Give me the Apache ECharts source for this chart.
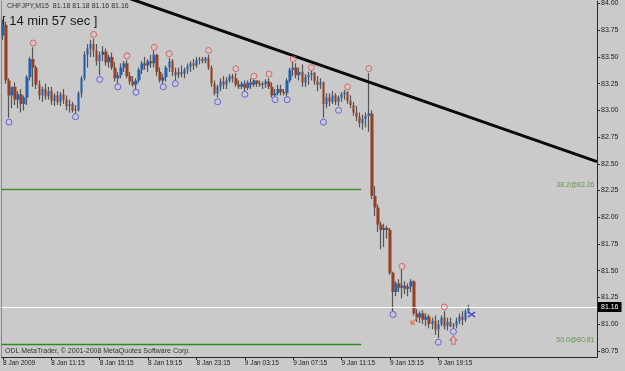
<!DOCTYPE html>
<html><head><meta charset="utf-8">
<script src="https://cdn.jsdelivr.net/npm/echarts@6/dist/echarts.min.js"></script>
<style>html,body{margin:0;padding:0;background:#cacaca}#c{width:625px;height:371px}</style>
</head><body><div id="c"></div>
<script>
// ---- data (CHFJPY M15, 8-9 Jan 2009) ----
const opens = [
83.70,83.80,83.28,83.14,83.22,83.10,83.15,83.06,83.12,83.31,
83.48,83.40,83.24,83.14,83.20,83.13,83.18,83.09,83.14,83.08,
83.15,83.10,83.04,83.06,83.01,83.00,83.16,83.30,83.52,83.58,
83.62,83.56,83.46,83.52,83.55,83.45,83.50,83.40,83.30,83.33,
83.40,83.44,83.32,83.27,83.24,83.28,83.38,83.44,83.42,83.46,
83.44,83.52,83.36,83.28,83.31,83.40,83.46,83.36,83.33,83.36,
83.34,83.38,83.41,83.44,83.42,83.47,83.48,83.46,83.49,83.40,
83.25,83.16,83.22,83.27,83.24,83.28,83.32,83.30,83.24,83.22,
83.25,83.21,83.26,83.24,83.28,83.25,83.24,83.25,83.27,83.22,
83.14,83.16,83.20,83.17,83.16,83.28,83.38,83.40,83.33,83.36,
83.26,83.31,83.33,83.35,83.27,83.24,83.26,83.06,83.12,83.08,
83.14,83.08,83.12,83.15,83.17,83.09,83.05,82.98,82.94,82.88,
82.92,82.95,82.97,82.20,82.09,81.93,81.88,81.90,81.88,81.48,
81.30,81.38,81.34,81.36,81.33,81.35,81.40,81.10,81.06,81.10,
81.04,81.07,81.00,81.03,80.95,81.00,81.06,80.98,81.02,80.98,
80.99,81.03,81.07,81.04,81.12];
const highs = [
83.85,83.83,83.30,83.22,83.26,83.18,83.20,83.14,83.33,83.50,
83.59,83.42,83.28,83.22,83.25,83.22,83.22,83.16,83.18,83.17,
83.20,83.14,83.10,83.08,83.05,83.18,83.32,83.55,83.62,83.66,
83.67,83.62,83.55,83.60,83.58,83.52,83.54,83.45,83.36,83.44,
83.46,83.47,83.36,83.32,83.30,83.40,83.46,83.50,83.48,83.52,
83.56,83.53,83.40,83.34,83.42,83.49,83.48,83.40,83.40,83.42,
83.40,83.44,83.46,83.48,83.50,83.50,83.50,83.50,83.52,83.42,
83.28,83.24,83.30,83.32,83.31,83.34,83.34,83.35,83.28,83.27,
83.28,83.28,83.30,83.29,83.28,83.28,83.27,83.29,83.30,83.26,
83.20,83.24,83.24,83.20,83.30,83.40,83.45,83.44,83.40,83.43,
83.34,83.36,83.37,83.36,83.32,83.30,83.27,83.16,83.16,83.18,
83.16,83.14,83.17,83.19,83.18,83.14,83.08,83.04,82.98,82.96,
82.98,83.35,83.00,82.29,82.12,81.96,81.94,81.92,81.90,81.49,
81.40,81.42,81.51,81.40,81.38,81.42,81.41,81.14,81.12,81.13,
81.10,81.09,81.06,81.08,81.04,81.08,81.12,81.06,81.06,81.01,
81.06,81.10,81.12,81.14,81.18];
const lows = [
83.66,83.25,82.93,83.02,83.05,83.02,82.98,83.00,83.05,83.28,
83.22,83.20,83.10,83.08,83.10,83.10,83.05,83.04,83.05,83.04,
83.06,83.00,82.98,82.98,82.97,82.99,83.12,83.28,83.40,83.50,
83.50,83.42,83.33,83.46,83.42,83.40,83.38,83.27,83.25,83.30,
83.36,83.30,83.24,83.22,83.20,83.26,83.34,83.38,83.36,83.40,
83.40,83.32,83.26,83.25,83.27,83.36,83.32,83.28,83.30,83.31,
83.30,83.34,83.36,83.38,83.40,83.43,83.44,83.44,83.38,83.22,
83.14,83.12,83.18,83.20,83.20,83.26,83.26,83.22,83.20,83.20,
83.18,83.19,83.20,83.22,83.22,83.22,83.20,83.21,83.20,83.12,
83.13,83.14,83.14,83.14,83.13,83.26,83.32,83.30,83.28,83.22,
83.22,83.24,83.28,83.24,83.18,83.20,82.93,83.02,83.04,83.06,
83.05,83.04,83.08,83.10,83.06,83.02,82.95,82.90,82.84,82.82,
82.84,82.80,82.17,82.01,81.86,81.70,81.72,81.80,81.46,81.12,
81.26,81.30,81.24,81.28,81.26,81.30,81.08,81.02,81.01,81.00,
80.98,80.96,80.95,80.90,80.87,80.98,80.95,80.94,80.97,80.96,
80.96,81.00,80.99,81.02,81.10];
const closes = [
83.80,83.28,83.14,83.22,83.10,83.15,83.06,83.12,83.31,83.48,
83.40,83.24,83.14,83.20,83.13,83.18,83.09,83.14,83.08,83.15,
83.10,83.04,83.06,83.00,83.00,83.16,83.30,83.52,83.58,83.62,
83.56,83.46,83.52,83.55,83.45,83.50,83.40,83.30,83.33,83.40,
83.44,83.32,83.27,83.24,83.28,83.38,83.44,83.42,83.46,83.44,
83.52,83.36,83.28,83.31,83.40,83.46,83.36,83.33,83.36,83.34,
83.38,83.41,83.44,83.42,83.47,83.48,83.46,83.49,83.40,83.25,
83.16,83.22,83.27,83.24,83.28,83.32,83.30,83.24,83.22,83.25,
83.21,83.26,83.24,83.28,83.25,83.24,83.25,83.27,83.22,83.14,
83.16,83.20,83.17,83.16,83.28,83.38,83.40,83.33,83.36,83.26,
83.31,83.33,83.35,83.27,83.24,83.26,83.06,83.12,83.08,83.14,
83.08,83.12,83.15,83.17,83.09,83.05,82.98,82.94,82.88,82.92,
82.95,82.97,82.20,82.09,81.93,81.88,81.90,81.88,81.48,81.30,
81.38,81.34,81.36,81.33,81.35,81.40,81.10,81.06,81.10,81.04,
81.07,81.00,81.03,80.95,81.00,81.06,80.98,81.02,80.98,80.99,
81.03,81.07,81.04,81.12,81.16];

const timeLabels = ['8 Jan 2009','8 Jan 11:15','8 Jan 15:15','8 Jan 19:15','8 Jan 23:15',
                    '9 Jan 03:15','9 Jan 07:15','9 Jan 11:15','9 Jan 15:15','9 Jan 19:15'];
const labelEvery = 16;          // one label every 16 bars (4 hours)
const totalSlots = 197;         // bar slots incl. empty future space
const priceTicks = [80.75,81.00,81.25,81.50,81.75,82.00,82.25,82.50,82.75,83.00,83.25,83.50,83.75,84.00];
const yMin = 80.692, yMax = 84.022;

// fractal markers [barIndex, price]
const highFractals = [[10,83.63],[30,83.71],[41,83.51],[50,83.59],[55,83.53],[68,83.56],[77,83.39],
  [83,83.32],[88,83.34],[96,83.48],[102,83.40],[114,83.22],[121,83.39],[132,81.54],[146,81.16]];
const lowFractals = [[2,82.89],[24,82.94],[32,83.29],[38,83.22],[44,83.17],[53,83.22],[57,83.25],
  [71,83.08],[80,83.15],[90,83.10],[94,83.10],[106,82.89],[111,83.00],[129,81.09],[144,80.83],[149,80.93]];
const sellMark = [[136,81.03]];
const buyArrow = [[149,80.85]];
const crossMark = [[155,81.09]];

const trendLine = [[40,84.065],[196.5,82.52]];
const fibLevels = [82.26, 80.81];
const fibNames = ['38.2@82.26','50.0@80.81'];
const fibEnd = 118.5;
const lastPrice = 81.16;

const headerText = 'CHFJPY,M15  81.18 81.18 81.16 81.16';
const timerText = '[ 14 min 57 sec ]';
const copyrightText = 'ODL MetaTrader, \u00a9 2001-2008 MetaQuotes Software Corp.';

// ---- chart ----
const FONT = '"Liberation Sans", Arial, sans-serif';
const chart = echarts.init(document.getElementById('c'), null, {renderer:'canvas', width:625, height:371});
const categories = Array.from({length: totalSlots}, (_, i) => String(i));
const wickData = opens.map((o,i) => [o, closes[i], lows[i], highs[i]]);
const bodyData = opens.map((o,i) => [o, closes[i], Math.min(o, closes[i]), Math.max(o, closes[i])]);
const showIdx = idx => idx % labelEvery === 0 && idx / labelEvery < timeLabels.length;

const option = {
  animation: false,
  backgroundColor: '#cacaca',
  grid: {left: 0, right: 28, top: 0, bottom: 14},
  xAxis: [{
    type: 'category', data: categories, boundaryGap: true,
    axisLine: {show: true, lineStyle: {color: '#2a2a2a', width: 1}},
    axisTick: {show: true, alignWithLabel: true, length: 3, interval: showIdx, lineStyle: {color: '#2a2a2a'}},
    axisLabel: {interval: showIdx, formatter: (v, idx) => timeLabels[idx / labelEvery] || '',
      align: 'left', margin: 3, fontSize: 6.5, color: '#222', fontFamily: FONT},
    splitLine: {show: false}
  }, {
    type: 'value', min: -0.5, max: totalSlots - 0.5, show: false
  }],
  yAxis: [{
    type: 'value', position: 'right', min: yMin, max: yMax,
    axisLine: {show: true, onZero: false, lineStyle: {color: '#2a2a2a', width: 1}},
    axisTick: {show: true, length: 3, customValues: priceTicks, lineStyle: {color: '#2a2a2a'}},
    axisLabel: {customValues: priceTicks, formatter: v => v.toFixed(2), fontSize: 7, color: '#222',
      margin: 4, fontFamily: FONT},
    splitLine: {show: false}
  }, {
    type: 'value', position: 'left', min: yMin, max: yMax,
    axisLine: {show: true, onZero: false, lineStyle: {color: '#8a8a8a'}},
    axisTick: {show: false}, axisLabel: {show: false}, splitLine: {show: false}
  }],
  series: [
    {type: 'line', xAxisIndex: 1, data: [[-0.5, fibLevels[0]], [fibEnd, fibLevels[0]]], symbol: 'none',
     lineStyle: {color: '#4a8c30', width: 1.5}, silent: true, z: 1},
    {type: 'line', xAxisIndex: 1, data: [[-0.5, fibLevels[1]], [fibEnd, fibLevels[1]]], symbol: 'none',
     lineStyle: {color: '#2f8a22', width: 1.5}, silent: true, z: 1},
    {type: 'scatter', xAxisIndex: 1, symbolSize: 1, itemStyle: {color: 'transparent'},
     data: fibLevels.map((l, k) => ({value: [totalSlots - 0.5, l], name: fibNames[k]})),
     label: {show: true, position: 'left', distance: 2, offset: [0, -4], formatter: p => p.name,
       color: '#4a8a30', fontSize: 7, fontFamily: FONT}, silent: true},
    {type: 'candlestick', name: 'wick', data: wickData, barWidth: 1,
     itemStyle: {color: '#555555', color0: '#555555', borderColor: '#555555', borderColor0: '#555555', borderWidth: 1.2},
     z: 2},
    {type: 'candlestick', name: 'body', data: bodyData, barWidth: 3,
     itemStyle: {color: '#2460b0', color0: '#983f22', borderColor: '#2460b0', borderColor0: '#983f22', borderWidth: 0},
     z: 3,
     markLine: {symbol: 'none', silent: true, animation: false,
       lineStyle: {color: '#ffffff', width: 1, type: 'solid'},
       label: {show: true, position: 'end', formatter: lastPrice.toFixed(2), color: '#ffffff',
         backgroundColor: '#000000', padding: [2, 3, 1, 3], fontSize: 7, distance: 1, fontFamily: FONT},
       data: [{yAxis: lastPrice}]}},
    {type: 'line', xAxisIndex: 1, data: trendLine, symbol: 'none', silent: true,
     lineStyle: {color: '#0a0a0a', width: 3}, z: 4},
    {type: 'scatter', xAxisIndex: 1, data: highFractals, symbol: 'circle', symbolSize: 6,
     itemStyle: {color: 'transparent', borderColor: '#e2504a', borderWidth: 1}, z: 5},
    {type: 'scatter', xAxisIndex: 1, data: lowFractals, symbol: 'circle', symbolSize: 6,
     itemStyle: {color: 'transparent', borderColor: '#4a4ae6', borderWidth: 1}, z: 5},
    {type: 'scatter', xAxisIndex: 1, data: buyArrow, symbol: 'path://M4,0 L8,4 L6,4 L6,8 L2,8 L2,4 L0,4 Z',
     symbolSize: [7, 8], itemStyle: {color: 'transparent', borderColor: '#e2504a', borderWidth: 1}, z: 5},
    {type: 'scatter', xAxisIndex: 1, data: sellMark, symbol: 'path://M8,0 L0,8 M0,3 L0,8 L5,8',
     symbolSize: 6, itemStyle: {color: 'transparent', borderColor: '#e0703a', borderWidth: 1.5}, z: 5},
    {type: 'scatter', xAxisIndex: 1, data: crossMark, symbol: 'path://M0,0 L8,6 M8,0 L0,6',
     symbolSize: [7, 5], itemStyle: {color: 'transparent', borderColor: '#3030c0', borderWidth: 1.5}, z: 5}
  ],
  graphic: [
    {type: 'text', left: 7, top: 3, style: {text: headerText, font: '7px ' + FONT, fill: '#333'}},
    {type: 'text', left: 2, top: 15, style: {text: timerText, font: '13px ' + FONT, fill: '#1a1a1a'}},
    {type: 'text', left: 5, top: 348, style: {text: copyrightText, font: '7px ' + FONT, fill: '#333'}}
  ]
};
chart.setOption(option);
</script></body></html>
